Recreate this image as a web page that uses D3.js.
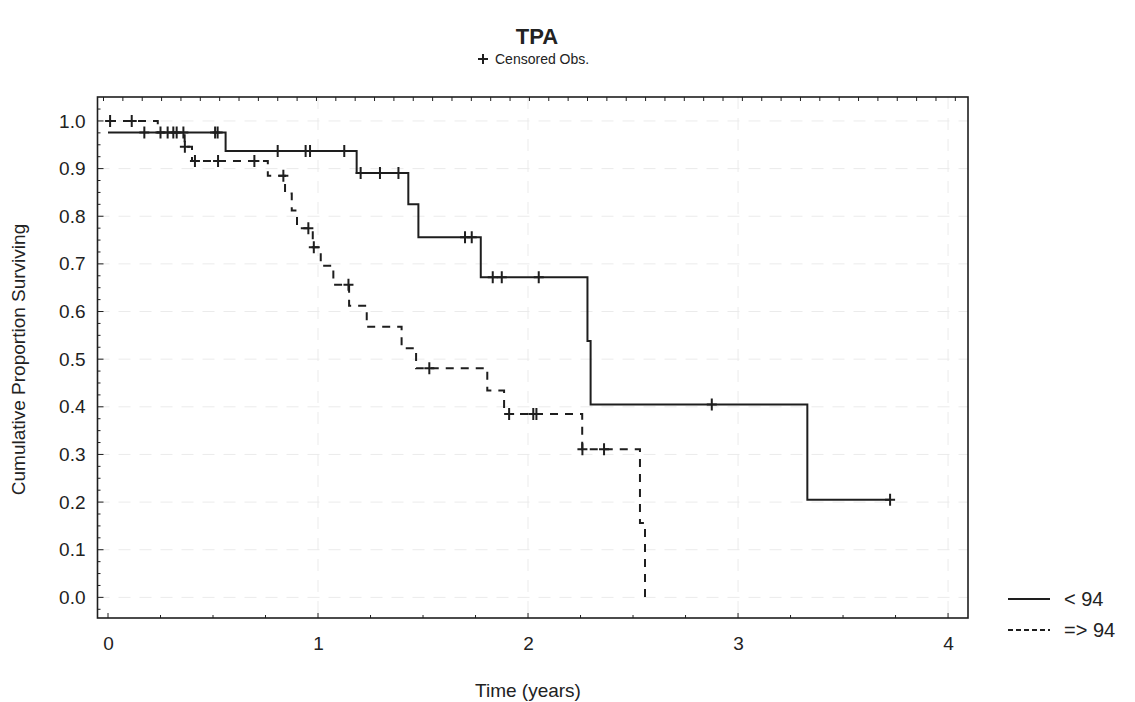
<!DOCTYPE html>
<html><head><meta charset="utf-8">
<script src="https://cdn.jsdelivr.net/npm/d3@7"></script>
<style>body{margin:0;background:#fff;} text{font-family:"Liberation Sans",Arial,sans-serif;fill:#222;}</style>
</head><body>
<svg id="c" width="1135" height="702"></svg>
<script>
// ----- data -----
const title = "TPA";
const censorLabel = "Censored Obs.";
const xLabel = "Time (years)";
const yLabel = "Cumulative Proportion Surviving";
const xTicks = [0, 1, 2, 3, 4];
const yTicks = [0, 0.1, 0.2, 0.3, 0.4, 0.5, 0.6, 0.7, 0.8, 0.9, 1.0];
const seriesNames = ["< 94", "=> 94"];

// group "< 94" (solid)
const lowTimes = [0, 0.56, 1.184, 1.43, 1.478, 1.775, 2.283, 2.298, 3.33];
const lowSurv  = [0.976, 0.937, 0.891, 0.825, 0.756, 0.672, 0.538, 0.405, 0.205];
const lowEnd = 3.724;
const lowCensored = [0.173, 0.284, 0.311, 0.359, 0.51, 0.522, 0.808, 0.941, 0.962, 1.125,
                     1.203, 1.295, 1.383, 1.70, 1.732, 1.832, 1.875, 2.051, 2.875, 3.724];

// group "=> 94" (dashed)
const highTimes = [0, 0.237, 0.365, 0.40, 0.761, 0.843, 0.875, 0.90, 0.975, 1.013, 1.073,
                   1.148, 1.232, 1.398, 1.467, 1.806, 1.886, 2.258, 2.533, 2.557];
const highSurv  = [1.0, 0.976, 0.946, 0.916, 0.885, 0.848, 0.812, 0.775, 0.735, 0.696, 0.656,
                   0.612, 0.568, 0.523, 0.481, 0.434, 0.385, 0.311, 0.156, 0.0];
const highEnd = 2.557;
const highCensored = [0.01, 0.113, 0.25, 0.327, 0.366, 0.414, 0.524, 0.697, 0.835, 0.954, 0.98,
                      1.145, 1.53, 1.91, 2.025, 2.04, 2.259, 2.362];

// ----- layout -----
const svg = d3.select("#c");
const L = 97.5, R = 968, T = 97, B = 618;
const x = d3.scaleLinear().domain([-0.05, 4.095]).range([L, R]);
const y = d3.scaleLinear().domain([-0.0433, 1.0503]).range([B, T]);
const ink = "#1e1e1e";

// grid
const g = svg.append("g");
g.selectAll("line.gy").data(yTicks).join("line")
  .attr("x1", L).attr("x2", R).attr("y1", d => y(d)).attr("y2", d => y(d))
  .attr("stroke", "#ebebeb").attr("stroke-dasharray", "12,9");
g.selectAll("line.gx").data(xTicks.slice(1)).join("line")
  .attr("x1", d => x(d)).attr("x2", d => x(d)).attr("y1", T).attr("y2", B)
  .attr("stroke", "#ebebeb").attr("stroke-dasharray", "12,9");

// minor / major ticks (inside)
const yMinor = d3.range(-0.025, 1.05, 0.025);
svg.append("g").selectAll("line").data(yMinor).join("line")
  .attr("x1", L).attr("x2", d => L + (Math.abs(Math.round(d*10) - d*10) < 1e-6 ? 6 : 3))
  .attr("y1", d => y(d)).attr("y2", d => y(d)).attr("stroke", ink).attr("stroke-width", 1);
const xMinor = d3.range(0, 4.1, 0.25);
svg.append("g").selectAll("line").data(xMinor).join("line")
  .attr("x1", d => x(d)).attr("x2", d => x(d)).attr("y1", B).attr("y2", d => B - (Number.isInteger(d) ? 5 : 3))
  .attr("stroke", ink).attr("stroke-width", 1);
const topTicks = d3.range(0, 45);
svg.append("g").selectAll("line").data(topTicks).join("line")
  .attr("x1", d => L + 6 + d * 19.36).attr("x2", d => L + 6 + d * 19.36)
  .attr("y1", T).attr("y2", T + 4).attr("stroke", ink).attr("stroke-width", 1);

// frame
svg.append("rect").attr("x", L).attr("y", T).attr("width", R - L).attr("height", B - T)
  .attr("fill", "none").attr("stroke", ink).attr("stroke-width", 1.6);

// axes labels
const yAxis = d3.axisLeft(y).tickValues(yTicks).tickFormat(d3.format(".1f")).tickSize(0).tickPadding(12);
const ya = svg.append("g").attr("transform", `translate(${L},0)`).call(yAxis);
ya.select(".domain").remove();
ya.selectAll("text").style("font-size", "19px").style("font-family", "Liberation Sans, Arial").attr("fill", ink);
const xAxis = d3.axisBottom(x).tickValues(xTicks).tickFormat(d3.format("d")).tickSize(0).tickPadding(19);
const xa = svg.append("g").attr("transform", `translate(0,${B})`).call(xAxis);
xa.select(".domain").remove();
xa.selectAll("text").style("font-size", "19px").style("font-family", "Liberation Sans, Arial").attr("fill", ink);

svg.append("text").attr("x", 528).attr("y", 697).attr("text-anchor", "middle")
  .style("font-size", "19px").text(xLabel);
svg.append("text").attr("transform", `translate(25,${(T + B) / 2 + 2}) rotate(-90)`).attr("text-anchor", "middle")
  .style("font-size", "19px").text(yLabel);
svg.append("text").attr("x", 537).attr("y", 44).attr("text-anchor", "middle")
  .style("font-size", "22px").style("font-weight", "bold").text(title);
// censored legend
svg.append("path").attr("d", "M478,59h10M483,54v10").attr("stroke", ink).attr("stroke-width", 2);
svg.append("text").attr("x", 495).attr("y", 64).style("font-size", "14px").text(censorLabel);

// curves
function pts(times, surv, end) {
  const p = times.map((t, i) => [t, surv[i]]);
  p.push([end, surv[surv.length - 1]]);
  return p;
}
function survAt(times, surv, t) {
  let s = surv[0];
  for (let i = 0; i < times.length; i++) if (times[i] <= t) s = surv[i];
  return s;
}
const line = d3.line().x(d => x(d[0])).y(d => y(d[1])).curve(d3.curveStepAfter);
svg.append("path").attr("d", line(pts(lowTimes, lowSurv, lowEnd)))
  .attr("fill", "none").attr("stroke", ink).attr("stroke-width", 2);
svg.append("path").attr("d", line(pts(highTimes, highSurv, highEnd)))
  .attr("fill", "none").attr("stroke", ink).attr("stroke-width", 2).attr("stroke-dasharray", "8,7");

function censor(times, surv, cens) {
  svg.append("g").selectAll("path").data(cens).join("path")
    .attr("d", t => {
      const cx = x(t), cy = y(survAt(times, surv, t));
      return `M${cx - 5},${cy}h10M${cx},${cy - 6}v12`;
    })
    .attr("stroke", ink).attr("stroke-width", 2).attr("fill", "none");
}
censor(lowTimes, lowSurv, lowCensored);
censor(highTimes, highSurv, highCensored);

// legend
const lg = svg.append("g");
lg.append("line").attr("x1", 1008).attr("x2", 1050).attr("y1", 599).attr("y2", 599)
  .attr("stroke", ink).attr("stroke-width", 2);
lg.append("line").attr("x1", 1008).attr("x2", 1050).attr("y1", 630).attr("y2", 630)
  .attr("stroke", ink).attr("stroke-width", 2).attr("stroke-dasharray", "5,3");
lg.selectAll("text").data(seriesNames).join("text")
  .attr("x", 1064).attr("y", (d, i) => 606 + i * 31)
  .style("font-size", "20px").text(d => d);
</script>
</body></html>
